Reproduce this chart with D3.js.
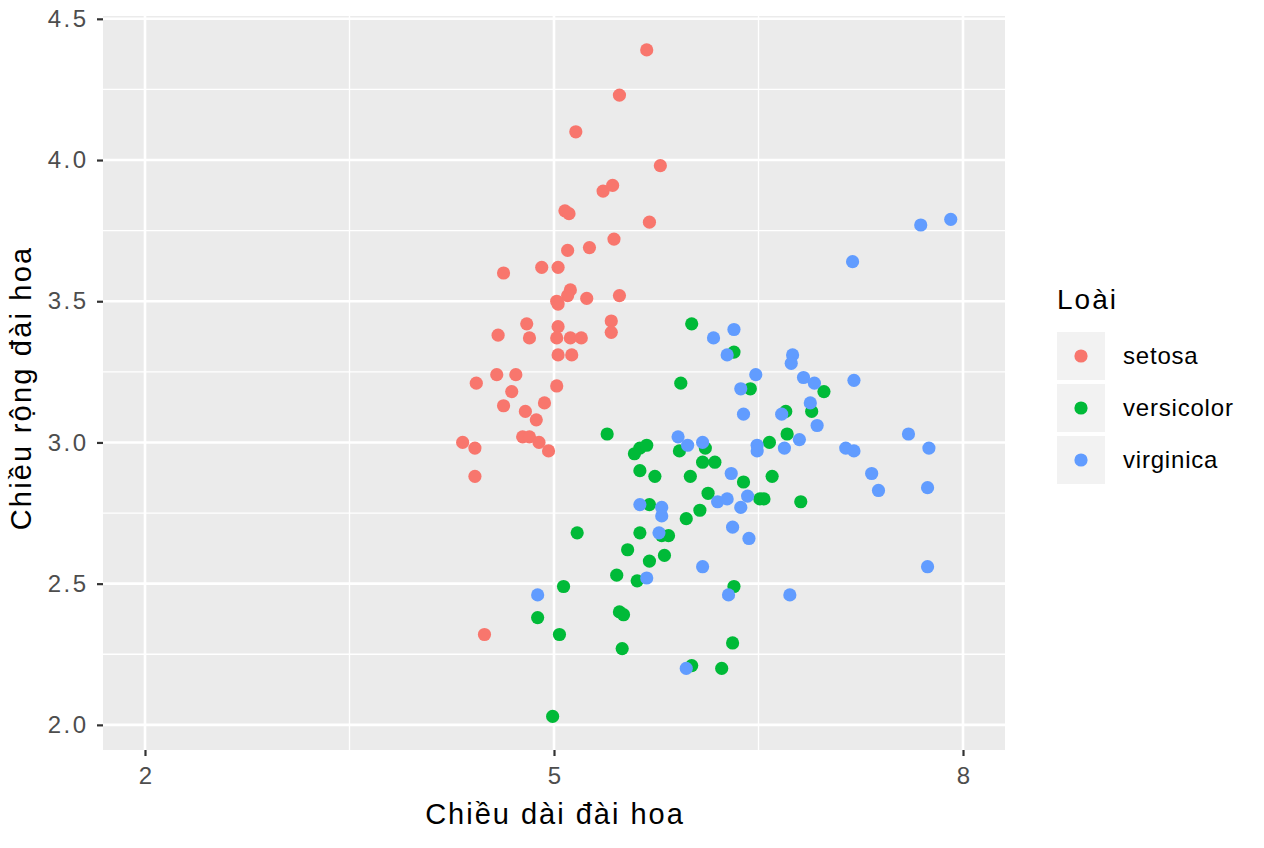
<!DOCTYPE html>
<html>
<head>
<meta charset="UTF-8">
<title>Iris scatter</title>
<script src="https://cdnjs.cloudflare.com/ajax/libs/d3/7.8.5/d3.min.js"></script>
<style>
  body { margin: 0; background: #fff; font-family: "Liberation Sans", Arial, sans-serif; }
</style>
</head>
<body>
<div id="chart"></div>
<script>
// points: [chiều dài, chiều rộng]
const setosa = [
  [5.68,4.39],[5.48,4.23],[5.16,4.10],[5.78,3.98],[5.36,3.89],[5.43,3.91],[5.08,3.82],[5.11,3.81],
  [5.70,3.78],[5.44,3.72],[5.26,3.69],[5.10,3.68],[4.63,3.60],[4.91,3.62],[5.03,3.62],[5.12,3.54],
  [5.10,3.52],[5.03,3.49],[5.02,3.50],[5.24,3.51],[5.48,3.52],[4.80,3.42],[5.03,3.41],[5.42,3.43],
  [4.59,3.38],[4.82,3.37],[5.02,3.37],[5.12,3.37],[5.20,3.37],[5.42,3.39],[5.03,3.31],[5.13,3.31],
  [4.58,3.24],[4.72,3.24],[4.43,3.21],[4.69,3.18],[5.02,3.20],[4.63,3.13],[4.79,3.11],[4.93,3.14],
  [4.87,3.08],[4.77,3.02],[4.82,3.02],[4.89,3.00],[4.33,3.00],[4.42,2.98],[4.96,2.97],[4.42,2.88],
  [4.49,2.32]
];
const versicolor = [
  [5.39,3.03],[5.59,2.96],[5.63,2.98],[5.68,2.99],[5.92,2.97],[6.11,2.98],[6.09,2.93],[6.18,2.93],
  [5.63,2.90],[5.74,2.88],[6.00,2.88],[6.39,2.86],[6.13,2.82],[6.51,2.80],[5.70,2.78],[6.07,2.76],
  [5.97,2.73],[5.17,2.68],[5.63,2.68],[5.79,2.67],[5.84,2.67],[5.54,2.62],[5.70,2.58],[5.81,2.60],
  [5.46,2.53],[5.61,2.51],[5.07,2.49],[6.32,2.49],[4.88,2.38],[5.48,2.40],[5.51,2.39],[5.04,2.32],
  [5.50,2.27],[6.31,2.29],[6.01,2.21],[6.23,2.20],[4.99,2.03],[6.01,3.42],[6.32,3.32],[5.93,3.21],
  [6.44,3.19],[6.98,3.18],[6.89,3.11],[6.70,3.11],[6.71,3.03],[6.58,3.00],[6.60,2.88],[6.54,2.80],
  [6.81,2.79]
];
const virginica = [
  [5.91,3.02],[5.98,2.99],[6.09,3.00],[6.49,2.99],[6.49,2.97],[6.30,2.89],[6.20,2.79],[6.27,2.80],
  [6.42,2.81],[6.37,2.77],[5.63,2.78],[5.79,2.77],[5.79,2.74],[6.31,2.70],[6.43,2.66],[5.77,2.68],
  [6.09,2.56],[5.68,2.52],[4.88,2.46],[6.28,2.46],[5.97,2.20],[6.32,3.40],[6.17,3.37],[6.27,3.31],
  [6.75,3.31],[6.74,3.28],[6.48,3.24],[6.37,3.19],[6.83,3.23],[6.91,3.21],[6.39,3.10],[6.88,3.14],
  [6.67,3.10],[6.93,3.06],[6.69,2.98],[6.80,3.01],[7.69,3.77],[7.91,3.79],[7.19,3.64],[7.20,3.22],
  [7.60,3.03],[7.75,2.98],[7.14,2.98],[7.20,2.97],[7.33,2.89],[7.38,2.83],[7.74,2.84],[7.74,2.56],
  [6.73,2.46]
];

const speciesNames = ["setosa", "versicolor", "virginica"];
const speciesColors = ["#F8766D", "#00BA38", "#619CFF"];
const xTicks = [2, 5, 8];
const xMinor = [3.5, 6.5];
const yTicks = [2.0, 2.5, 3.0, 3.5, 4.0, 4.5];
const yMinor = [2.25, 2.75, 3.25, 3.75, 4.25];
const xTitle = "Chiều dài đài hoa";
const yTitle = "Chiều rộng đài hoa";
const legendTitle = "Loài";

const width = 1264, height = 848;
const panel = { left: 103, right: 1005, top: 16, bottom: 750 };

const svg = d3.select("#chart").append("svg")
  .attr("width", width)
  .attr("height", height);

const x = d3.scaleLinear().domain([1.692, 8.308]).range([panel.left, panel.right]);
const y = d3.scaleLinear().domain([1.911, 4.51]).range([panel.bottom, panel.top]);

// panel background
svg.append("rect")
  .attr("x", panel.left).attr("y", panel.top)
  .attr("width", panel.right - panel.left)
  .attr("height", panel.bottom - panel.top)
  .attr("fill", "#EBEBEB");

const grid = svg.append("g");
// minor grid
grid.selectAll("line.xminor").data(xMinor).join("line")
  .attr("x1", d => x(d)).attr("x2", d => x(d))
  .attr("y1", panel.top).attr("y2", panel.bottom)
  .attr("stroke", "#fff").attr("stroke-width", 1.3);
grid.selectAll("line.yminor").data(yMinor).join("line")
  .attr("y1", d => y(d)).attr("y2", d => y(d))
  .attr("x1", panel.left).attr("x2", panel.right)
  .attr("stroke", "#fff").attr("stroke-width", 1.3);
// major grid
grid.selectAll("line.xmajor").data(xTicks).join("line")
  .attr("x1", d => x(d)).attr("x2", d => x(d))
  .attr("y1", panel.top).attr("y2", panel.bottom)
  .attr("stroke", "#fff").attr("stroke-width", 2.6);
grid.selectAll("line.ymajor").data(yTicks).join("line")
  .attr("y1", d => y(d)).attr("y2", d => y(d))
  .attr("x1", panel.left).attr("x2", panel.right)
  .attr("stroke", "#fff").attr("stroke-width", 2.6);

// axes
const xAxis = svg.append("g")
  .attr("transform", `translate(0,${panel.bottom})`)
  .call(d3.axisBottom(x).tickValues(xTicks).tickSize(6).tickPadding(11).tickFormat(d3.format("d")));
const yAxis = svg.append("g")
  .attr("transform", `translate(${panel.left},0)`)
  .call(d3.axisLeft(y).tickValues(yTicks).tickSize(6).tickPadding(11).tickFormat(d3.format(".1f")));
[xAxis, yAxis].forEach(a => {
  a.attr("font-family", null).attr("font-size", 24);
  a.select(".domain").remove();
  a.selectAll(".tick line").attr("stroke", "#333").attr("stroke-width", 2.2);
  a.selectAll(".tick text").attr("fill", "#4d4d4d");
});
// reference glyphs run a little wider than Arial
yAxis.selectAll(".tick text").attr("letter-spacing", 2.5).attr("dx", 2.5);

// points
const groups = [setosa, versicolor, virginica];
groups.forEach((pts, i) => {
  svg.append("g").selectAll("circle").data(pts).join("circle")
    .attr("cx", d => x(d[0]))
    .attr("cy", d => y(d[1]))
    .attr("r", 6.6)
    .attr("fill", speciesColors[i]);
});

// axis titles
svg.append("text")
  .attr("x", (panel.left + panel.right) / 2 + 1).attr("y", 824)
  .attr("text-anchor", "middle")
  .attr("font-size", 29).attr("letter-spacing", 2)
  .text(xTitle);
svg.append("text")
  .attr("transform", `translate(31,${388}) rotate(-90)`)
  .attr("text-anchor", "middle")
  .attr("font-size", 29).attr("letter-spacing", 2.2)
  .text(yTitle);

// legend
const legend = svg.append("g").attr("transform", "translate(1057,0)");
legend.append("text")
  .attr("x", 0).attr("y", 309)
  .attr("font-size", 28).attr("letter-spacing", 2)
  .text(legendTitle);
const keys = legend.selectAll("g.key").data(speciesNames).join("g")
  .attr("transform", (d, i) => `translate(0,${332 + i * 52})`);
keys.append("rect")
  .attr("width", 48).attr("height", 48)
  .attr("fill", "#F2F2F2");
keys.append("circle")
  .attr("cx", 24).attr("cy", 24).attr("r", 6.6)
  .attr("fill", (d, i) => speciesColors[i]);
keys.append("text")
  .attr("x", 66).attr("y", 24).attr("dy", "0.35em")
  .attr("font-size", 24).attr("letter-spacing", 0.8).attr("fill", "#000")
  .text(d => d);
</script>
</body>
</html>
